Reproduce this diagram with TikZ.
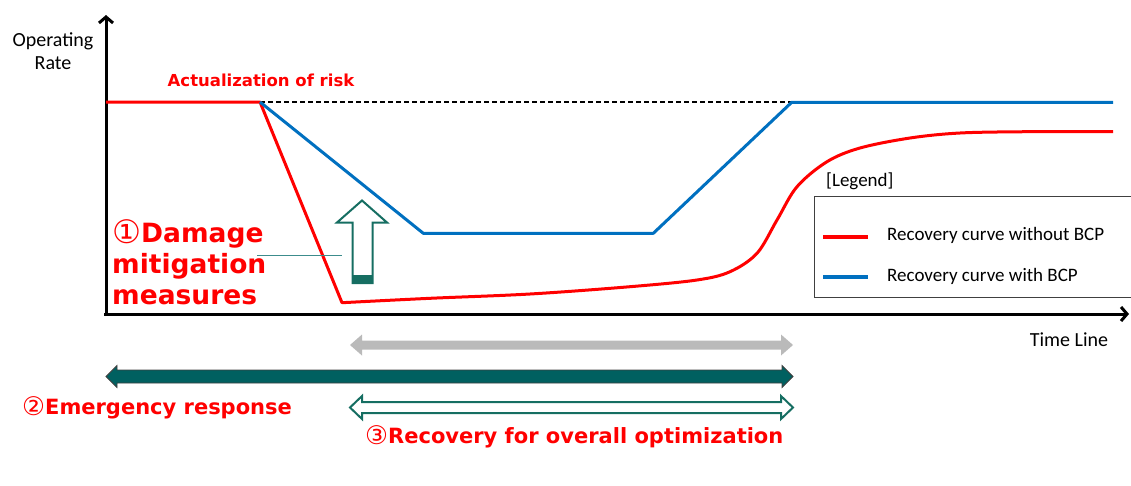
\documentclass[tikz,border=0pt]{standalone}
\usepackage{fontspec}
\setmainfont{Carlito}
\newfontfamily\calloutfont{DejaVu Sans}
\usetikzlibrary{calc,arrows.meta}
\definecolor{riskred}{RGB}{255,0,0}
\definecolor{bcpblue}{RGB}{0,112,192}
\definecolor{darkteal}{RGB}{0,96,96}
\definecolor{tealline}{RGB}{22,110,98}
\definecolor{leadline}{RGB}{60,140,140}
\def\circnum#1{\raisebox{-0.04em}{\scalebox{1.22}{\mdseries#1}}}
% horizontal double arrow: [style](x1:x2:y)(shaft half:head half:head length)
\def\dblarrow[#1](#2:#3:#4)(#5:#6:#7){\draw[#1] (#2,#4) -- (#2+#7,#4-#6) -- (#2+#7,#4-#5) -- (#3-#7,#4-#5) -- (#3-#7,#4-#6) -- (#3,#4) -- (#3-#7,#4+#6) -- (#3-#7,#4+#5) -- (#2+#7,#4+#5) -- (#2+#7,#4+#6) -- cycle;}

\begin{document}
\begin{tikzpicture}[x=1pt,y=-1pt,
	curve/.style={line width=3pt,line join=round},
	axis/.style={line width=3pt,-{Straight Barb[length=6pt,width=14pt]}},
	note/.style={font=\fontsize{20}{23}\selectfont,inner sep=0pt,align=center},
	callout/.style={text=riskred,inner sep=0pt,align=left,font=\calloutfont\bfseries\fontsize{21}{25}\selectfont}]
	%%%%% START %%%%%
	\useasboundingbox (0,0) rectangle (1131,485);
	
	% axes
	\coordinate (origin) at (106,314);
	\coordinate (ytip) at (106,15);
	\coordinate (xtip) at (1129,314);
	\draw[axis] (106,316) -- (ytip);
	\draw[axis] (104,314) -- (xtip);
	\node[note] (yname) at (53,51) {Operating\\Rate};
	\node[note] (xname) at (1069,340) {Time Line};
	
	% normal level
	\coordinate (risk) at (260,102);
	\coordinate (back) at (792,102);
	\draw[line width=1.5pt,dash pattern=on 5pt off 3pt] (risk) -- (back);
	\node[callout,font=\calloutfont\bfseries\fontsize{16.5}{20}\selectfont] (actual) at (261,80) {Actualization of risk};
	
	% recovery curves
	\draw[curve,riskred] (106,102) -- (risk) -- (342,302.7) -- plot[smooth,tension=0.55] coordinates {(342,302.7) (430,298.3) (530,294) (630,286.7) (697,280) (730,271.7) (757,253.3) (777,220) (797,186.7) (827,161.7) (860,148) (910,138) (960,133) (1027,131.7) (1113,131.5)};
	\draw[curve,bcpblue] (risk) -- (423.3,233.3) -- (653.3,233.3) -- (791.7,102.3) -- (1113,102.3);
	
	% mitigation arrow
	\draw[tealline,line width=2pt,line join=miter,fill=white] (362,200.5) -- (387,222.5) -- (372.5,222.5) -- (372.5,283) -- (352.5,283) -- (352.5,222.5) -- (337,222.5) -- cycle;
	\fill[tealline] (352.5,275) rectangle (372.5,283);
	\node[callout,font=\calloutfont\bfseries\fontsize{26.5}{31}\selectfont,anchor=west] (damage) at (112,262) {\circnum{①}Damage\\mitigation\\measures};
	\coordinate (lead) at (257,255);
	\draw[leadline,line width=1pt] (lead) -- (342,255);
	
	% legend
	\draw[black!75,line width=1pt] (1131,196) -- (814,196) -- (814,297) -- (1131,297);
	\node[note,anchor=west,font=\fontsize{19}{22}\selectfont] (legend) at (826,181) {[Legend]};
	\draw[riskred,line width=3.5pt] (823,237) -- (868,237);
	\draw[bcpblue,line width=3.5pt] (823,277) -- (868,277);
	\node[note,anchor=west,font=\fontsize{19}{22}\selectfont] (without) at (887,235) {Recovery curve without BCP};
	\node[note,anchor=west,font=\fontsize{19}{22}\selectfont] (with) at (887,276) {Recovery curve with BCP};
	
	% phases
	\dblarrow[fill=black!27,draw=none](350:793:345)(4.5:10.5:12)
	\dblarrow[fill=darkteal,draw=black!75,line width=0.8pt](106:793:376.5)(6.5:11:11)
	\dblarrow[fill=white,draw=tealline,line width=2pt](350:793:407.5)(5.5:11.5:12)
	\node[callout,anchor=west] (emergency) at (22,408) {\circnum{②}Emergency response};
	\node[callout,anchor=west] (recovery) at (365,437) {\circnum{③}Recovery for overall optimization};
	%%%%% END %%%%%
\end{tikzpicture}
\end{document}
